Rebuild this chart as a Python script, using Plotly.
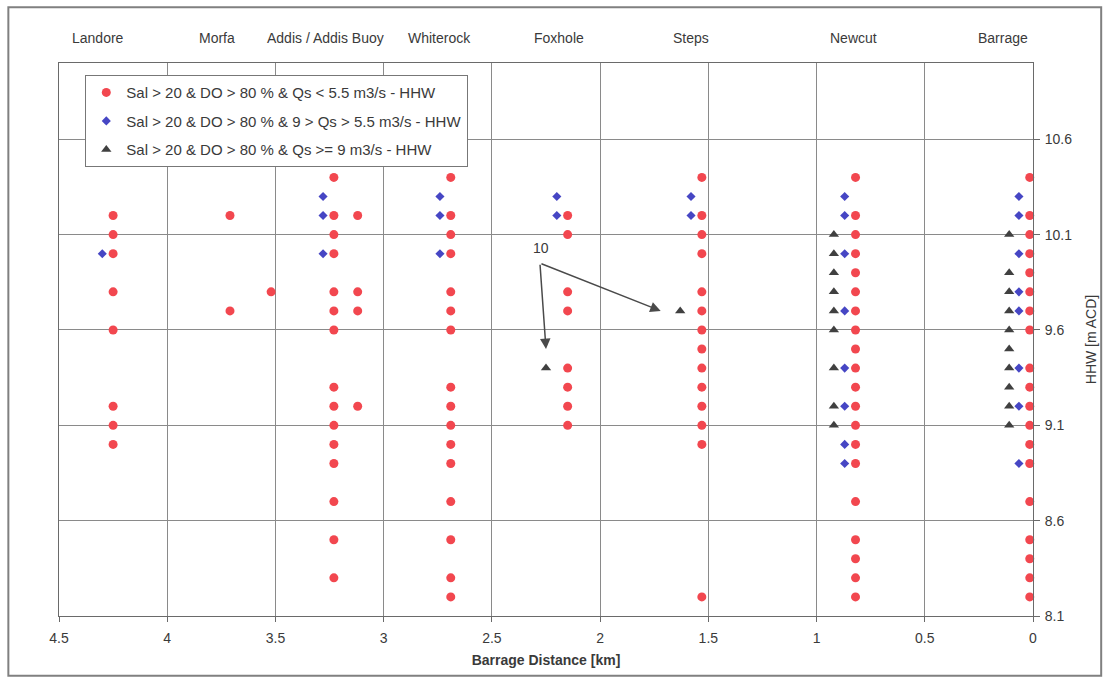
import plotly.graph_objects as go

# ---------------- data ----------------
stations = ["Landore", "Morfa", "Addis / Addis Buoy", "Whiterock", "Foxhole", "Steps", "Newcut", "Barrage"]
station_label_x = [4.32, 3.77, 3.27, 2.74, 2.19, 1.58, 0.83, 0.14]

# Sal > 20 & DO > 80 % & Qs < 5.5 m3/s  (red circles)
red_dist = [4.25, 3.71, 3.52, 3.23, 3.12, 2.69, 2.15, 1.53, 0.82, 0.015]
red_landore = [10.2, 10.1, 10.0, 9.8, 9.6, 9.2, 9.1, 9.0]
red_morfa = [10.2, 9.7]
red_morfa2 = [9.8]
red_addis = [10.4, 10.2, 10.1, 10.0, 9.8, 9.7, 9.6, 9.3, 9.2, 9.1, 9.0, 8.9, 8.7, 8.5, 8.3]
red_addisbuoy = [10.2, 9.8, 9.7, 9.2]
red_whiterock = [10.4, 10.2, 10.1, 10.0, 9.8, 9.7, 9.6, 9.3, 9.2, 9.1, 9.0, 8.9, 8.7, 8.5, 8.3, 8.2]
red_foxhole = [10.2, 10.1, 9.8, 9.7, 9.4, 9.3, 9.2, 9.1]
red_steps = [10.4, 10.2, 10.1, 10.0, 9.8, 9.7, 9.6, 9.5, 9.4, 9.3, 9.2, 9.1, 9.0, 8.2]
red_newcut = [10.4, 10.2, 10.1, 10.0, 9.9, 9.8, 9.7, 9.6, 9.5, 9.4, 9.3, 9.2, 9.1, 9.0, 8.9, 8.7, 8.5, 8.4, 8.3, 8.2]
red_barrage = [10.4, 10.2, 10.1, 10.0, 9.9, 9.8, 9.7, 9.6, 9.4, 9.3, 9.2, 9.1, 9.0, 8.9, 8.7, 8.5, 8.4, 8.3, 8.2]

# Sal > 20 & DO > 80 % & 9 > Qs > 5.5 m3/s  (blue diamonds)
blue_dist = [4.30, 3.28, 2.74, 2.20, 1.58, 0.87, 0.065]
blue_landore = [10.0]
blue_addis = [10.3, 10.2, 10.0]
blue_whiterock = [10.3, 10.2, 10.0]
blue_foxhole = [10.3, 10.2]
blue_steps = [10.3, 10.2]
blue_newcut = [10.3, 10.2, 10.0, 9.7, 9.4, 9.2, 9.0, 8.9]
blue_barrage = [10.3, 10.2, 10.0, 9.8, 9.7, 9.4, 9.2, 8.9]

# Sal > 20 & DO > 80 % & Qs >= 9 m3/s  (dark triangles)
tri_dist = [2.25, 1.63, 0.92, 0.11]
tri_foxhole = [9.4]
tri_steps = [9.7]
tri_newcut = [10.1, 10.0, 9.9, 9.8, 9.7, 9.6, 9.4, 9.2, 9.1]
tri_barrage = [10.1, 9.9, 9.8, 9.7, 9.6, 9.5, 9.4, 9.3, 9.2, 9.1]

y_ticks = [8.1, 8.6, 9.1, 9.6, 10.1, 10.6]
x_ticks = [4.5, 4, 3.5, 3, 2.5, 2, 1.5, 1, 0.5, 0]

red_sets = [red_landore, red_morfa, red_morfa2, red_addis, red_addisbuoy,
            red_whiterock, red_foxhole, red_steps, red_newcut, red_barrage]
blue_sets = [blue_landore, blue_addis, blue_whiterock, blue_foxhole,
             blue_steps, blue_newcut, blue_barrage]
tri_sets = [tri_foxhole, tri_steps, tri_newcut, tri_barrage]


def flatten(dists, sets):
    xs, ys = [], []
    for d, s in zip(dists, sets):
        xs += [d] * len(s)
        ys += list(s)
    return xs, ys


rx, ry = flatten(red_dist, red_sets)
bx, by = flatten(blue_dist, blue_sets)
tx, ty = flatten(tri_dist, tri_sets)

FONT = "Liberation Sans, Arial, sans-serif"
TXT = "#3a3a3a"

fig = go.Figure()
fig.add_trace(go.Scatter(
    x=rx, y=ry, mode="markers", name="Sal > 20 & DO > 80 % & Qs < 5.5 m3/s - HHW",
    marker=dict(symbol="circle", size=9, color="#f2474f"), legendgroup="a", cliponaxis=False))
fig.add_trace(go.Scatter(
    x=bx, y=by, mode="markers", name="Sal > 20 & DO > 80 % & 9 > Qs > 5.5 m3/s - HHW",
    marker=dict(symbol="diamond", size=7, color="#4646c4"), legendgroup="b", cliponaxis=False))
fig.add_trace(go.Scatter(
    x=tx, y=ty, mode="markers", name="Sal > 20 & DO > 80 % & Qs >= 9 m3/s - HHW",
    marker=dict(symbol="triangle-up", size=9, color="#404040"), legendgroup="c", cliponaxis=False))

annotations = []
for name, lx in zip(stations, station_label_x):
    annotations.append(dict(x=lx, y=1.045, xref="x", yref="paper", text=name,
                            yanchor="middle", xanchor="center",
                            showarrow=False, font=dict(family=FONT, size=14, color=TXT)))

# "10" callout with two arrows
annotations.append(dict(x=2.275, y=10.03, xref="x", yref="y", text="10", showarrow=False,
                        font=dict(family=FONT, size=14, color=TXT)))
for tip in [(2.25, 9.50), (1.72, 9.70)]:
    annotations.append(dict(x=tip[0], y=tip[1], xref="x", yref="y", ax=2.278, ay=9.95,
                            axref="x", ayref="y", text="", showarrow=True,
                            arrowhead=2, arrowsize=1.4, arrowwidth=1.5, arrowcolor="#4a4a4a",
                            standoff=0, startstandoff=0))

fig.update_layout(
    width=1112, height=678,
    margin=dict(l=59, r=79, t=63, b=62),
    paper_bgcolor="white", plot_bgcolor="white",
    font=dict(family=FONT, size=14, color=TXT),
    showlegend=True,
    legend=dict(x=0.027, y=0.978, xanchor="left", yanchor="top",
                bgcolor="white", bordercolor="#777", borderwidth=1,
                font=dict(family=FONT, size=15, color=TXT),
                tracegroupgap=6, traceorder="grouped", itemwidth=30),
    annotations=annotations,
    shapes=[dict(type="rect", xref="paper", yref="paper",
                 x0=-0.052, x1=1.070, y0=-0.108, y1=1.101,
                 line=dict(color="#808080", width=2), fillcolor="rgba(0,0,0,0)", layer="below")],
)

fig.update_xaxes(
    range=[4.5, 0], tickvals=x_ticks, ticktext=[str(v) for v in x_ticks],
    showgrid=True, gridcolor="#8a8a8a", gridwidth=1,
    showline=True, linecolor="#6a6a6a", linewidth=1, mirror=True,
    ticks="outside", ticklen=5, tickcolor="#6a6a6a", ticklabelstandoff=4,
    tickfont=dict(family=FONT, size=14, color=TXT), zeroline=False,
    title=dict(text="<b>Barrage Distance [km]</b>", font=dict(family=FONT, size=14, color=TXT), standoff=10),
)
fig.update_yaxes(
    range=[8.1, 11.0], side="right", tickvals=y_ticks, ticktext=[f"{v:.1f}" for v in y_ticks],
    showgrid=True, gridcolor="#8a8a8a", gridwidth=1,
    showline=True, linecolor="#6a6a6a", linewidth=1, mirror=True,
    ticks="outside", ticklen=6, tickcolor="#6a6a6a", ticklabelstandoff=2,
    tickfont=dict(family=FONT, size=14, color=TXT), zeroline=False,
    title=dict(text="HHW [m ACD]", font=dict(family=FONT, size=14, color=TXT), standoff=14),
)

fig.write_html("out.html")
